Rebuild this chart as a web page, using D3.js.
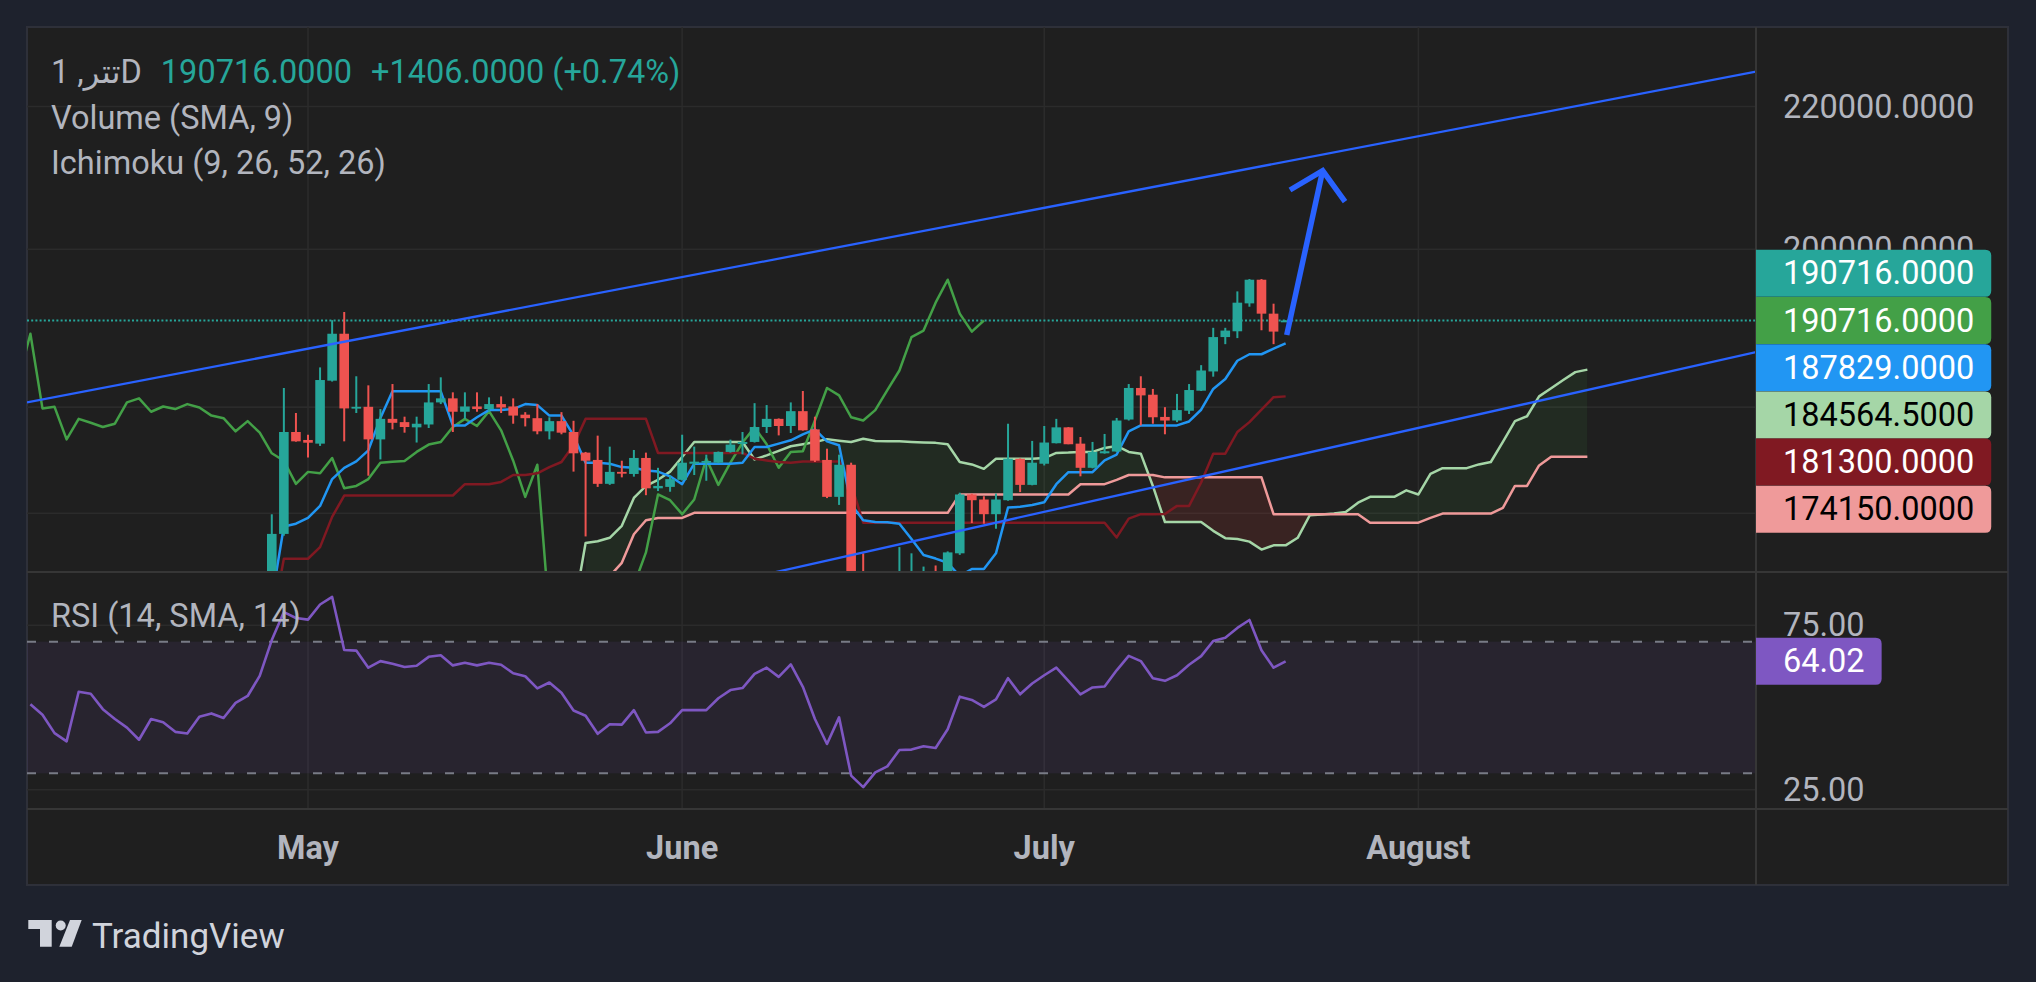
<!DOCTYPE html>
<html>
<head>
  <meta charset="UTF-8">
  <title>Tether 1D - Ichimoku</title>
  <style>
    html, body { margin: 0; padding: 0; background: #1e222d; }
    svg { display: block; }
    text { font-family: Roboto, "DejaVu Sans", sans-serif; }
  </style>
</head>
<body>
<svg></svg>
<script src="https://d3js.org/d3.v7.min.js"></script>

<script>

let width = 2036, height = 982;

// ---- data ----
const symbolTitle = "1 ,تترD";
const legendRows = ["Volume (SMA, 9)", "Ichimoku (9, 26, 52, 26)"];
const rsiTitle = "RSI (14, SMA, 14)";

// daily candles, first one is Apr 28
const firstDay = "2025-04-28";
const opens = [158000,165400,177040,176100,175670,183210,189040,179850,180040,176170,
  178600,178210,177590,177930,180570,181060,179450,180080,179770,180370,
  180080,179100,178680,177120,178330,177040,174620,173770,171020,172390,
  172150,174000,170510,170670,171480,173330,173490,173450,174700,175630,
  175870,177630,178600,177750,179520,177350,173770,169540,173210,156500,
  154000,156000,157000,159500,159600,160000,159800,163270,169810,169240,
  167590,169160,173910,170900,173330,175720,177590,175670,172860,174540,
  174750,178520,182320,181500,178830,178400,179570,181990,184340,188620,
  189350,192910,195980,191590,190620];
const highs = [167580,182320,179300,176720,184840,190760,191800,183750,182640,179770,
  182800,178860,178860,182800,183620,181790,181790,181790,181180,181300,
  181060,179400,180370,178790,179400,178370,174700,176610,175320,173680,
  174930,174620,172860,171950,176720,175320,174380,174750,176140,177040,
  180480,180250,178650,180570,181950,178860,175080,174380,173450,163270,
  158500,159500,163950,163270,161830,161950,163480,170010,169900,169610,
  169920,178020,173950,175990,177750,178600,177620,176450,175870,176810,
  178710,182800,183750,182200,180000,181600,182800,185120,189790,189790,
  194460,196070,196070,192870,190760];
const lows = [156500,165200,175900,174060,175400,183100,175940,179300,171950,173830,
  177350,176960,175800,177510,180370,177040,178600,179450,179450,179300,
  178020,177700,176770,176170,176770,172420,165120,170670,170900,171760,
  171840,169730,170200,170120,171400,172030,171370,173400,174620,174420,
  175800,176920,176640,176920,177200,173530,169400,168630,155500,152000,
  152500,155000,156000,157500,158500,158000,159000,163100,166600,166530,
  165970,169100,170080,170850,173130,175700,175600,171880,172800,174500,
  174700,178400,177820,178020,176770,178210,179180,181950,183700,187730,
  188490,192480,189480,187730,190600];
const closes = [165400,177040,175940,175780,183290,189040,179850,180040,176170,178600,
  178130,177630,178020,180570,181060,179450,180080,179770,180370,179960,
  178990,178680,177120,178330,176960,174540,173680,171020,172390,172230,
  174000,170510,170780,171560,173450,173570,173650,174700,175560,175870,
  177630,178600,177750,179520,177240,173680,169540,173210,156500,154000,
  156000,157000,159500,159600,160000,159800,163370,169810,169160,167590,
  169240,173910,170900,173450,175800,177590,175600,172860,174700,174780,
  178400,182320,181420,178790,178400,179650,182070,184460,188620,189440,
  193000,195980,191590,189310,190716];

// Ichimoku lines, one value per day
const tenkanStart = "2025-04-28";
const tenkan = [158300,166220,166530,167170,168520,171560,172860,173600,174890,178700,
  181910,181910,181910,181910,181910,177820,177820,178790,179650,179650,
  179770,180370,180250,178990,178990,176640,173450,173450,173330,172940,
  172860,172540,172420,171880,170980,173330,173330,173330,173330,173450,
  175280,175280,175670,176060,176770,177350,175940,175480,168700,166910,
  166720,166680,166530,164830,163080,162700,162240,160800,161570,161570,
  163270,168340,168420,168630,168930,170980,172350,172350,172350,173720,
  174400,177120,177820,177820,177820,177820,178290,179690,182200,183420,
  185660,186470,186470,187170,187829];
const kijunStart = "2025-04-28";
const kijun = [155700,162680,162680,162680,163950,167290,169690,169690,169690,169690,
  169690,169690,169690,169690,169690,169690,170980,170980,170980,171240,
  172030,172030,172230,172940,173530,175480,178600,178600,178600,178600,
  178600,178600,174580,174580,174580,174580,174580,174580,174580,174580,
  173910,173710,173530,173450,173600,173600,173600,173600,170980,166640,
  166640,166640,166640,166640,166640,166640,166640,166640,166640,166640,
  166640,166640,166640,166640,166640,166640,166640,166640,166640,166640,
  165010,167100,167590,167590,167620,168520,168520,171170,174500,174500,
  177040,178210,179690,181200,181300];
const spanAStart = "2025-05-23";
const spanA = [157000,164400,164590,164970,166300,169420,170780,171480,172420,174110,
  175870,175870,175870,175870,175870,173830,174300,174820,175360,175600,
  175870,176200,176020,175870,176250,175990,175950,175950,175870,175800,
  175760,175600,173530,173250,172740,173910,173910,173910,173910,173990,
  174580,174620,174700,174700,175170,175400,174700,174500,170780,166720,
  166720,166720,166720,165740,164930,164830,164550,163680,164140,164140,
  164970,167470,167550,167660,167850,168880,169540,169540,169540,170280,
  169810,172150,172820,172820,172820,173250,173530,175870,178330,178910,
  181300,182280,183290,184260,184564.5];
const spanBStart = "2025-05-24";
const spanB = [156000,158000,160800,162240,165360,166910,167170,167170,167170,167740,
  167740,167740,167740,167740,167740,167740,167740,167740,167740,167740,
  167740,167740,167740,167740,167740,167740,167740,167740,167740,167740,
  167740,169810,169810,169810,169810,169810,169810,169810,169810,169810,
  169810,170980,170980,170980,171470,172030,172030,172030,171760,171760,
  171760,171760,171760,171760,171760,171760,171760,167590,167590,167590,
  167590,167590,167590,167590,167590,166640,166640,166640,166640,166640,
  167170,167660,167660,167660,167660,167660,168300,170780,170780,173130,
  174150,174150,174150,174150];
const laggingShift = 25;

// RSI (14), one value per day
const rsiStart = "2025-04-08";
const rsi = [51.0,47.8,42.2,39.7,54.8,54.2,49.5,46.5,43.9,40.2,
  46.5,45.5,42.6,42.1,47.2,48.2,46.8,51.4,53.5,59.6,
  70.5,79.0,77.2,76.7,81.3,83.6,67.5,67.3,62.1,64.1,
  63.3,62.3,62.7,65.4,65.9,62.8,63.6,62.8,63.6,63.0,
  60.4,59.5,55.8,57.6,54.5,49.1,47.5,42.0,44.9,44.8,
  49.2,42.4,42.6,45.2,49.2,49.2,49.2,52.8,55.3,55.9,
  60.2,62.1,59.3,63.1,56.3,46.5,38.9,47.0,29.3,25.8,
  30.3,32.1,37.1,37.2,38.2,37.7,43.4,53.3,52.3,50.2,
  52.5,58.9,54.0,57.3,59.8,62.1,58.1,54.0,56.1,56.4,
  61.3,65.7,64.1,58.9,58.1,59.8,63.0,65.6,70.2,71.2,
  74.2,76.6,67.4,62.1,64.02];
const rsiBands = [70, 30];

// axes
const monthTicks = ["2025-05-01", "2025-06-01", "2025-07-01", "2025-08-01"];
const priceTicks = [220000, 200000, 180000, 167700];
const priceLabels = [220000, 200000];   // the other two sit under the value tags
const rsiTicks = [75, 25];

// drawings
const upperTrend = [["2025-04-28", 186305], ["2025-07-21", 212050]];
const lowerTrend = [["2025-06-10", 161600], ["2025-07-21", 174030]];
const arrowShaft = [["2025-07-21T02:10Z", 188880], ["2025-07-24T01:40Z", 210775]];
const arrowHead = [["2025-07-21T08:40Z", 208075], ["2025-07-24T01:40Z", 210775], ["2025-07-25T22:05Z", 206455]];

// ---- layout ----
const paneLeft = 27, plotRight = 1756, paneRight = 2008, paneTop = 27;
const mainBottom = 572, rsiBottom = 809, axisBottom = 885;
const fontSize = 32.5;
const up = "#26a69a", down = "#ef5350";
const gridColor = "#2b2b2b", sepColor = "#363636", textColor = "#b2b5be";

let svg = d3.select("svg")
    .attr("width", width)
    .attr("height", height);

let x = d3.scaleUtc()
    .domain([new Date("2025-05-01"), new Date("2025-08-01")])
    .range([308, 1418.4]);

let y = d3.scaleLog()
    .domain([200000, 220000])
    .range([249.3, 106.5]);

let yr = d3.scaleLinear()
    .domain([30, 70])
    .range([773.3, 641.7]);

function series(start, values) {
  return values.map((v, i) => ({ date: d3.utcDay.offset(new Date(start), i), value: v }));
}

let candles = opens.map((o, i) => ({
  date: d3.utcDay.offset(new Date(firstDay), i),
  open: o, high: highs[i], low: lows[i], close: closes[i]
}));
let tenkanData = series(tenkanStart, tenkan);
let kijunData = series(kijunStart, kijun);
let spanAData = series(spanAStart, spanA);
let spanBData = series(spanBStart, spanB);
let laggingData = candles.map(c => ({ date: d3.utcDay.offset(c.date, -laggingShift), value: c.close }));
let rsiData = series(rsiStart, rsi);

let aByTime = new Map(spanAData.map(d => [+d.date, d.value]));
let cloud = spanBData.filter(d => aByTime.has(+d.date))
    .map(d => ({ date: d.date, a: aByTime.get(+d.date), b: d.value }));

// background & frame
svg.append("rect").attr("width", width).attr("height", height).attr("fill", "#1e222d");
svg.append("rect")
    .attr("x", paneLeft).attr("y", paneTop)
    .attr("width", paneRight - paneLeft).attr("height", axisBottom - paneTop)
    .attr("fill", "#1f1f1f")
    .attr("stroke", "#2e3039").attr("stroke-width", 2);

let defs = svg.append("defs");
defs.append("clipPath").attr("id", "mainClip").append("rect")
    .attr("x", paneLeft).attr("y", paneTop).attr("width", plotRight - paneLeft).attr("height", mainBottom - paneTop);
defs.append("clipPath").attr("id", "rsiClip").append("rect")
    .attr("x", paneLeft).attr("y", mainBottom).attr("width", plotRight - paneLeft).attr("height", rsiBottom - mainBottom);
defs.append("clipPath").attr("id", "aboveB").append("path")
    .attr("d", d3.area().x(d => x(d.date)).y0(-1000).y1(d => y(d.b))(cloud));
defs.append("clipPath").attr("id", "belowB").append("path")
    .attr("d", d3.area().x(d => x(d.date)).y0(3000).y1(d => y(d.b))(cloud));

// grid
let grid = svg.append("g").attr("stroke", gridColor).attr("stroke-width", 1.6);
grid.selectAll("line.v").data(monthTicks).join("line")
    .attr("x1", d => x(new Date(d))).attr("x2", d => x(new Date(d)))
    .attr("y1", paneTop).attr("y2", rsiBottom);
grid.selectAll("line.p").data(priceTicks).join("line")
    .attr("x1", paneLeft).attr("x2", plotRight)
    .attr("y1", d => y(d)).attr("y2", d => y(d));
grid.selectAll("line.r").data(rsiTicks).join("line")
    .attr("x1", paneLeft).attr("x2", plotRight)
    .attr("y1", d => yr(d)).attr("y2", d => yr(d));

// ---- main pane ----
let main = svg.append("g").attr("clip-path", "url(#mainClip)");

let cloudArea = d3.area().x(d => x(d.date)).y0(d => y(d.b)).y1(d => y(d.a));
main.append("path").attr("d", cloudArea(cloud))
    .attr("fill", "rgba(67,160,71,0.1)").attr("clip-path", "url(#aboveB)");
main.append("path").attr("d", cloudArea(cloud))
    .attr("fill", "rgba(244,67,54,0.12)").attr("clip-path", "url(#belowB)");

let lastClose = closes[closes.length - 1];
main.append("line")
    .attr("x1", paneLeft).attr("x2", plotRight)
    .attr("y1", y(lastClose)).attr("y2", y(lastClose))
    .attr("stroke", up).attr("stroke-width", 2)
    .attr("stroke-dasharray", "2,2.2");

let line = d3.line().x(d => x(d.date)).y(d => y(d.value));
[[spanAData, "#a5d6a7"], [spanBData, "#ef9a9a"], [laggingData, "#43a047"],
 [kijunData, "#801922"], [tenkanData, "#2196f3"]].forEach(s => {
  main.append("path").attr("d", line(s[0]))
      .attr("fill", "none").attr("stroke", s[1]).attr("stroke-width", 2.5)
      .attr("stroke-linejoin", "round");
});

// candles
let bw = 9.6;
let cg = main.append("g");
cg.selectAll("line").data(candles).join("line")
    .attr("x1", d => x(d.date)).attr("x2", d => x(d.date))
    .attr("y1", d => y(d.high)).attr("y2", d => y(d.low))
    .attr("stroke", d => d.close >= d.open ? up : down)
    .attr("stroke-width", 2);
cg.selectAll("rect").data(candles).join("rect")
    .attr("x", d => x(d.date) - bw / 2)
    .attr("y", d => y(Math.max(d.open, d.close)))
    .attr("width", bw)
    .attr("height", d => Math.max(1.8, y(Math.min(d.open, d.close)) - y(Math.max(d.open, d.close))))
    .attr("fill", d => d.close >= d.open ? up : down);

// trend lines, extended across the pane
function extended(pts) {
  let p1 = [x(new Date(pts[0][0])), y(pts[0][1])];
  let p2 = [x(new Date(pts[1][0])), y(pts[1][1])];
  let k = (p2[1] - p1[1]) / (p2[0] - p1[0]);
  return [[paneLeft, p1[1] + k * (paneLeft - p1[0])], [plotRight, p1[1] + k * (plotRight - p1[0])]];
}
[upperTrend, lowerTrend].forEach(t => {
  let e = extended(t);
  main.append("line")
      .attr("x1", e[0][0]).attr("y1", e[0][1])
      .attr("x2", e[1][0]).attr("y2", e[1][1])
      .attr("stroke", "#2962ff").attr("stroke-width", 2.3);
});

let dline = d3.line().x(d => x(new Date(d[0]))).y(d => y(d[1]));
[arrowShaft, arrowHead].forEach(a => {
  main.append("path").attr("d", dline(a))
      .attr("fill", "none").attr("stroke", "#2962ff").attr("stroke-width", 5.5)
      .attr("stroke-linejoin", "miter");
});

// ---- RSI pane ----
let rp = svg.append("g").attr("clip-path", "url(#rsiClip)");
rp.append("rect")
    .attr("x", paneLeft).attr("width", plotRight - paneLeft)
    .attr("y", yr(rsiBands[0])).attr("height", yr(rsiBands[1]) - yr(rsiBands[0]))
    .attr("fill", "rgba(126,87,194,0.1)");
rp.selectAll("line.band").data(rsiBands).join("line")
    .attr("x1", paneLeft).attr("x2", plotRight)
    .attr("y1", d => yr(d)).attr("y2", d => yr(d))
    .attr("stroke", "#787b86").attr("stroke-width", 2)
    .attr("stroke-dasharray", "9,13");
rp.append("path")
    .attr("d", d3.line().x(d => x(d.date)).y(d => yr(d.value))(rsiData))
    .attr("fill", "none").attr("stroke", "#7e57c2").attr("stroke-width", 2.6)
    .attr("stroke-linejoin", "round");

// separators
let sep = svg.append("g").attr("stroke", sepColor).attr("stroke-width", 2);
sep.append("line").attr("x1", paneLeft).attr("x2", paneRight).attr("y1", mainBottom).attr("y2", mainBottom);
sep.append("line").attr("x1", paneLeft).attr("x2", paneRight).attr("y1", rsiBottom).attr("y2", rsiBottom);
sep.append("line").attr("x1", plotRight).attr("x2", plotRight).attr("y1", paneTop).attr("y2", axisBottom);

// ---- legends ----
function label(g, tx, ty, str, color) {
  return g.append("text")
      .attr("x", tx).attr("y", ty)
      .attr("dominant-baseline", "central")
      .attr("font-size", fontSize)
      .attr("fill", color)
      .text(str);
}
let fmt4 = d3.format(".4f");
let prevClose = closes[closes.length - 2];
let change = lastClose - prevClose;
let t1 = label(svg, 51, 72, symbolTitle, textColor);
let lx = 51 + t1.node().getComputedTextLength() + 19;
let t2 = label(svg, lx, 72, fmt4(lastClose), up);
lx += t2.node().getComputedTextLength() + 19;
label(svg, lx, 72, (change >= 0 ? "+" : "") + fmt4(change) + " (+" + (change / prevClose * 100).toFixed(2) + "%)", up);
legendRows.forEach((r, i) => label(svg, 51, 118 + i * 45.3, r, textColor));
label(svg, 51, 616, rsiTitle, textColor);

// ---- price axis ----
priceLabels.forEach(p => label(svg, 1783, y(p), fmt4(p), textColor));
rsiTicks.forEach(v => label(svg, 1783, yr(v), v.toFixed(2), textColor));

function tag(cy, str, fill, ink) {
  let g = svg.append("g");
  let h = 47;
  let t = label(g, 1783, cy, str, ink);
  let x1 = 1783 + t.node().getComputedTextLength() + 17, x0 = plotRight, r = 6;
  g.insert("path", "text")
      .attr("d", `M${x0},${cy - h / 2}H${x1 - r}Q${x1},${cy - h / 2} ${x1},${cy - h / 2 + r}` +
                 `V${cy + h / 2 - r}Q${x1},${cy + h / 2} ${x1 - r},${cy + h / 2}H${x0}Z`)
      .attr("fill", fill);
}

let tags = [
  { value: lastClose, fill: up, ink: "#ffffff" },
  { value: laggingData[laggingData.length - 1].value, fill: "#43a047", ink: "#ffffff" },
  { value: tenkan[tenkan.length - 1], fill: "#2196f3", ink: "#ffffff" },
  { value: spanA[spanA.length - 1], fill: "#a5d6a7", ink: "#000000" },
  { value: kijun[kijun.length - 1], fill: "#801922", ink: "#ffffff" },
  { value: spanB[spanB.length - 1], fill: "#ef9a9a", ink: "#000000" }
];
// stack the tags so they do not overlap, the lagging span tag keeps its place
let tagH = 47.2, anchor = 1;
tags.forEach(t => t.cy = y(t.value));
for (let i = anchor + 1; i < tags.length; i++) tags[i].cy = Math.max(tags[i].cy, tags[i - 1].cy + tagH);
for (let i = anchor - 1; i >= 0; i--) tags[i].cy = Math.min(tags[i].cy, tags[i + 1].cy - tagH);
tags.forEach(t => tag(t.cy, fmt4(t.value), t.fill, t.ink));

tag(yr(rsi[rsi.length - 1]), rsi[rsi.length - 1].toFixed(2), "#7e57c2", "#ffffff");

// ---- time axis ----
svg.selectAll("text.month").data(monthTicks).join("text")
    .attr("x", d => x(new Date(d)))
    .attr("y", 848)
    .attr("text-anchor", "middle")
    .attr("dominant-baseline", "central")
    .attr("font-size", fontSize)
    .attr("font-weight", "bold")
    .attr("fill", textColor)
    .text(d => d3.utcFormat("%B")(new Date(d)));

// ---- logo ----
let logo = svg.append("g").attr("fill", "#d1d4dc");
logo.append("path").attr("d", "M28.3,920H51.7V946.7H40V929H28.3Z");
logo.append("circle").attr("cx", 60.7).attr("cy", 925.5).attr("r", 5);
logo.append("path").attr("d", "M70,920H81.7L71.7,946.7H59.3Z");
logo.append("text")
    .attr("x", 92).attr("y", 948)
    .attr("font-size", 35)
    .attr("fill", "#d1d4dc")
    .text("TradingView");

</script>

</body>
</html>
